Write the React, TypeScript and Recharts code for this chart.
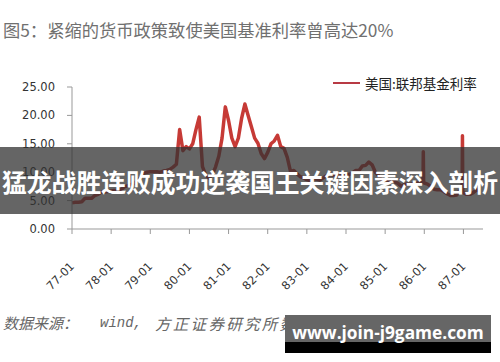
import { LineChart, Line, XAxis, YAxis } from 'recharts'

// US federal funds rate, monthly, 77-01 .. 87-06 (index 0 = 77-01)
const yearLabels = ['77-01', '78-01', '79-01', '80-01', '81-01', '82-01', '83-01', '84-01', '85-01', '86-01', '87-01']
const yearTicks = [0, 12, 24, 36, 48, 60, 72, 84, 96, 108, 120]
const yTicks = [0, 5, 10, 15, 20, 25]

const monthlyRates = [
  4.6, 4.7, 4.7, 4.8, 5.4, 5.4, 5.4, 5.9, 6.1, 6.5, 6.5, 6.6,
  6.7, 6.8, 6.8, 6.9, 7.4, 7.6, 7.8, 8.0, 8.5, 9.0, 9.8, 10.0,
  10.1, 10.1, 10.1, 10.0, 10.2, 10.3, 10.5, 10.9, 11.4, 17.5, 13.8, 14.5,
  14.1, 15.0, 17.5, 19.7, 11.0, 9.5, 9.0, 9.6, 10.9, 12.8, 16.0, 21.5,
  19.1, 16.0, 14.5, 16.0, 19.5, 22.0, 20.0, 18.0, 16.0, 15.1, 13.3, 12.4,
  13.5, 15.0, 15.5, 16.5, 14.5, 14.2, 12.6, 10.1, 10.3, 9.7, 9.2, 9.0,
  8.7, 8.5, 8.8, 8.8, 8.6, 9.0, 9.4, 9.6, 9.5, 9.5, 9.3, 9.5,
  9.6, 9.6, 9.9, 10.3, 10.3, 11.1, 11.2, 11.8, 11.3, 10.0, 9.4, 8.4,
  8.4, 8.5, 8.6, 8.3, 8.0, 7.5, 7.9, 7.9, 7.9, 8.0, 8.1, 8.3,
  8.1, 7.9, 7.5, 7.0, 6.9, 6.9, 6.6, 6.2, 5.9, 5.9, 6.0, 6.9,
  6.4, 6.1, 6.1, 6.4, 6.9, 6.7,
]

// year-end daily spikes
const spikeMonths = [107.6, 107.7, 107.8, 119.6, 119.7, 119.8]
const spikeRates = [8.3, 13.6, 8.2, 6.9, 16.4, 6.6]

const data = [
  ...monthlyRates.map((v, i) => ({ m: i, v })),
  ...spikeMonths.map((m, i) => ({ m, v: spikeRates[i] })),
].sort((a, b) => a.m - b.m)

const axisFont = '"DejaVu Sans", Verdana, sans-serif'
const cjkFont = '"Noto Sans CJK SC", sans-serif'

function XTick({ x, y, payload }: any) {
  const label = yearLabels[yearTicks.indexOf(payload.value)]
  return (
    <text
      x={x + 3}
      y={y + 31}
      transform={`rotate(-45, ${x + 3}, ${y + 31})`}
      textAnchor="end"
      fontSize={11.5}
      fontFamily={axisFont}
      fill="#333"
    >
      {label}
    </text>
  )
}

export default function App() {
  return (
    <div style={{ position: 'absolute', left: 0, top: 0, width: 500, height: 362, background: '#fff', overflow: 'hidden' }}>
      <div style={{ position: 'absolute', left: 3, top: 19, fontFamily: cjkFont, fontSize: 17.3, color: '#707070', whiteSpace: 'nowrap', lineHeight: '22px' }}>
        图5：紧缩的货币政策致使美国基准利率曾高达20%
      </div>

      <LineChart width={500} height={362} data={data} margin={{ top: 87, right: 17, left: 0, bottom: 0 }}>
        <XAxis
          type="number"
          dataKey="m"
          domain={[0, 126]}
          ticks={yearTicks}
          interval={0}
          height={133}
          tick={<XTick />}
          tickSize={5}
          stroke="#999"
        />
        <YAxis
          domain={[0, 25]}
          ticks={yTicks}
          width={72}
          tickSize={5}
          tickMargin={12}
          tickFormatter={(v: number) => v.toFixed(2)}
          tick={{ fontSize: 11.5, fontFamily: axisFont, fill: '#333' }}
          stroke="#999"
        />
        <Line
          type="linear"
          dataKey="v"
          stroke="#c63a36"
          strokeWidth={3.5}
          strokeLinejoin="round"
          dot={false}
          isAnimationActive={false}
        />
      </LineChart>

      <div style={{ position: 'absolute', left: 333, top: 82, width: 27, height: 2, background: '#b83a44' }} />
      <div style={{ position: 'absolute', left: 365, top: 74, fontFamily: cjkFont, fontSize: 13.5, color: '#222', whiteSpace: 'nowrap', lineHeight: '18px' }}>
        美国:联邦基金利率
      </div>

      <div style={{ position: 'absolute', left: 0, top: 147, width: 500, height: 67, background: 'rgba(50,50,50,0.75)', display: 'flex', alignItems: 'center', justifyContent: 'center' }}>
        <span style={{ fontFamily: cjkFont, fontWeight: 700, fontSize: 24.8, color: '#fff', whiteSpace: 'nowrap' }}>
          猛龙战胜连败成功逆袭国王关键因素深入剖析
        </span>
      </div>

      <div style={{ position: 'absolute', left: 3, top: 313, fontFamily: cjkFont, fontStyle: 'italic', fontSize: 15, color: '#666', whiteSpace: 'nowrap', lineHeight: '20px' }}>
        数据来源：
      </div>
      <div style={{ position: 'absolute', left: 100, top: 313, fontFamily: '"Liberation Mono", monospace', fontStyle: 'italic', fontSize: 14, color: '#666', whiteSpace: 'nowrap', lineHeight: '20px' }}>
        wind,
      </div>
      <div style={{ position: 'absolute', left: 155, top: 313, fontFamily: cjkFont, fontStyle: 'italic', fontSize: 15.5, letterSpacing: 2.3, color: '#666', whiteSpace: 'nowrap', lineHeight: '20px' }}>
        方正证券研究所数据
      </div>

      <div style={{ position: 'absolute', left: 285, top: 315, width: 206, height: 27, background: '#666' }} />
      <div style={{ position: 'absolute', left: 285, top: 342, width: 206, height: 11, background: '#000' }} />
      <div style={{ position: 'absolute', left: 285, top: 320, width: 206, textAlign: 'center', fontFamily: '"Open Sans", sans-serif', fontWeight: 700, fontSize: 17.3, color: '#fff', whiteSpace: 'nowrap', lineHeight: '26px' }}>
        www.join-j9game.com
      </div>
    </div>
  )
}
